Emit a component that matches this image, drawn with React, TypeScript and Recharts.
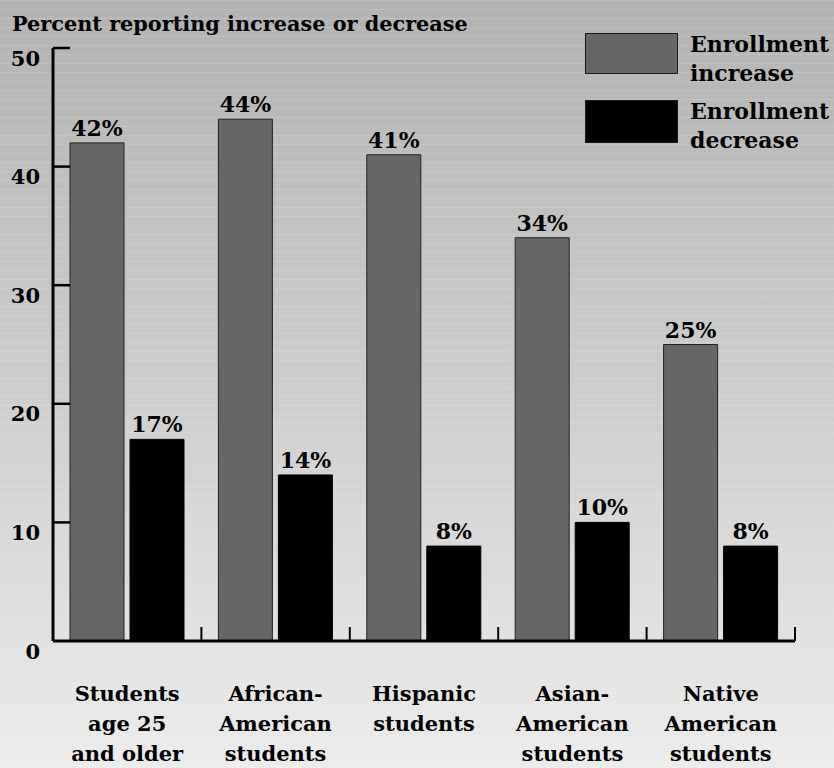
import React from 'react';
import { BarChart, Bar, XAxis, YAxis, Legend, LabelList } from 'recharts';

// data
const categories = [
  ['Students', 'age 25', 'and older'],
  ['African-', 'American', 'students'],
  ['Hispanic', 'students'],
  ['Asian-', 'American', 'students'],
  ['Native', 'American', 'students'],
];
const increase = [42, 44, 41, 34, 25];
const decrease = [17, 14, 8, 10, 8];
const yTicks = [0, 10, 20, 30, 40, 50];
const seriesOrder = ['increase', 'decrease'];

const W = 834;
const H = 768;
const MARGIN = { top: 48, right: 39, left: 0, bottom: 0 };
const Y_W = 53;
const X_H = 127;
const BAND = (W - Y_W - MARGIN.right) / categories.length;
const FONT = '"DejaVu Serif", serif';

const data = categories.map((lines, i) => ({
  name: lines.join(' '),
  lines,
  increase: increase[i],
  decrease: decrease[i],
}));

const YTick = ({ x, y, payload }: any) => (
  <g>
    {payload.value !== 0 && (
      <line x1={x} x2={x + 17} y1={y} y2={y} stroke="#000" strokeWidth={2.5} />
    )}
    <text x={x - 13} y={y + 10} textAnchor="end" dominantBaseline="central"
      fontFamily={FONT} fontWeight="bold" fontSize={21} fill="#000">
      {payload.value}
    </text>
  </g>
);

const XTick = ({ x, y, index }: any) => {
  const lines = categories[index] || [];
  return (
    <g>
      <line x1={x + BAND / 2} x2={x + BAND / 2} y1={y} y2={y - 14} stroke="#000" strokeWidth={2} />
      <text textAnchor="middle" fontFamily={FONT} fontWeight="bold" fontSize={21} fill="#000">
        {lines.map((l: string, i: number) => (
          <tspan key={i} x={x} y={y + 60 + i * 30}>{l}</tspan>
        ))}
      </text>
    </g>
  );
};

const renderLegend = ({ payload }: any) => {
  const items = [...(payload || [])].sort(
    (a: any, b: any) => seriesOrder.indexOf(a.dataKey) - seriesOrder.indexOf(b.dataKey)
  );
  return (
    <div style={{ fontFamily: FONT, fontWeight: 'bold', fontSize: 22, color: '#000' }}>
      {items.map((p: any, i: number) => {
        const words = String(p.value).split(' ');
        return (
          <div key={i} style={{ display: 'flex', alignItems: 'flex-start', marginBottom: i === 0 ? 12 : 0 }}>
            <div style={{
              width: 91, height: i === 0 ? 39 : 41, background: p.color, border: '1px solid #1a1a1a', marginRight: 12,
            }} />
            <div style={{ lineHeight: '29px', marginTop: -3 }}>
              <div>{words[0]}</div>
              <div>{words[1]}</div>
            </div>
          </div>
        );
      })}
    </div>
  );
};

export default function App() {
  return (
    <div style={{
      position: 'absolute', left: 0, top: 0, width: W, height: H, overflow: 'hidden',
      background: 'repeating-linear-gradient(to bottom, rgba(255,255,255,0.12) 0px, rgba(255,255,255,0.12) 1px, transparent 1px, transparent 9px), linear-gradient(to bottom, #b3b3b3 0%, #cdcdcd 50%, #ececec 100%)',
    }}>
      <div style={{
        position: 'absolute', left: 12, top: 11, fontFamily: FONT, fontWeight: 'bold',
        fontSize: 20.8, color: '#000', whiteSpace: 'nowrap',
      }}>
        Percent reporting increase or decrease
      </div>
      <BarChart width={W} height={H} data={data} margin={MARGIN}
        barCategoryGap={17} barGap={6}>
        <YAxis
          width={Y_W}
          domain={[0, 50]}
          ticks={yTicks}
          interval={0}
          tickSize={0}
          tickMargin={0}
          tickLine={false}
          axisLine={{ stroke: '#000', strokeWidth: 3 }}
          tick={<YTick />}
        />
        <XAxis
          dataKey="name"
          height={X_H}
          interval={0}
          tickSize={0}
          tickMargin={0}
          tickLine={false}
          axisLine={{ stroke: '#000', strokeWidth: 3 }}
          tick={<XTick />}
        />
        <Legend
          layout="vertical"
          align="center"
          verticalAlign="middle"
          content={renderLegend}
          wrapperStyle={{ position: 'absolute', left: 585, top: 33, width: 250, height: 120 }}
        />
        <Bar dataKey="increase" name="Enrollment increase" fill="#666666" stroke="#222"
          strokeWidth={1} isAnimationActive={false}>
          <LabelList dataKey="increase" position="top" offset={7}
            formatter={(v: any) => `${v}%`}
            style={{ fontFamily: FONT, fontWeight: 'bold', fontSize: 22, fill: '#000' }} />
        </Bar>
        <Bar dataKey="decrease" name="Enrollment decrease" fill="#000000" stroke="#000"
          strokeWidth={1} isAnimationActive={false}>
          <LabelList dataKey="decrease" position="top" offset={7}
            formatter={(v: any) => `${v}%`}
            style={{ fontFamily: FONT, fontWeight: 'bold', fontSize: 22, fill: '#000' }} />
        </Bar>
      </BarChart>
    </div>
  );
}
